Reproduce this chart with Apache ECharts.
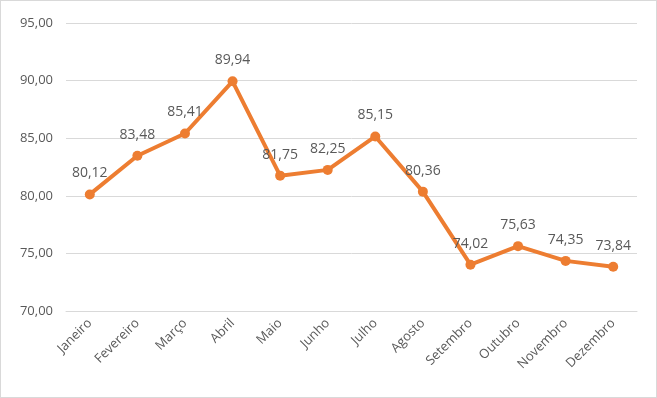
<!DOCTYPE html>
<html>
<head>
<meta charset="utf-8">
<script src="https://cdn.jsdelivr.net/npm/echarts@6/dist/echarts.min.js"></script>
<style>
  html, body { margin: 0; padding: 0; background: #fff; }
  #chart { width: 655px; height: 396px; border: 1px solid #d9d9d9; }
</style>
</head>
<body>
<div id="chart"></div>
<script>
// meses e valores
const meses = ['Janeiro', 'Fevereiro', 'Março', 'Abril', 'Maio', 'Junho',
  'Julho', 'Agosto', 'Setembro', 'Outubro', 'Novembro', 'Dezembro']
const valores = [80.12, 83.48, 85.41, 89.94, 81.75, 82.25, 85.15, 80.36, 74.02, 75.63, 74.35, 73.84]

const fmt = v => v.toFixed(2).replace('.', ',')
const fonte = 'Open Sans, Noto Sans, sans-serif'

const chart = echarts.init(document.getElementById('chart'))
chart.setOption({
  animation: false,
  grid: { left: 65, right: 19, top: 22, bottom: 86, containLabel: false },
  xAxis: {
    type: 'category',
    data: meses,
    boundaryGap: true,
    axisLine: { lineStyle: { color: '#d9d9d9', width: 1 } },
    axisTick: { show: false },
    axisLabel: { rotate: 45, color: '#595959', fontSize: 13, fontFamily: fonte, margin: 10 }
  },
  yAxis: {
    type: 'value',
    min: 70,
    max: 95,
    interval: 5,
    axisLine: { show: false },
    axisTick: { show: false },
    splitLine: { lineStyle: { color: '#d9d9d9', width: 1 } },
    axisLabel: { color: '#595959', fontSize: 13, fontFamily: fonte, margin: 13, formatter: v => fmt(v) }
  },
  series: [{
    type: 'line',
    data: valores,
    symbol: 'circle',
    symbolSize: 10,
    lineStyle: { color: '#ed7d31', width: 4 },
    itemStyle: { color: '#ed7d31' },
    label: {
      show: true,
      position: 'top',
      distance: 9,
      color: '#595959',
      fontSize: 14,
      fontFamily: fonte,
      formatter: p => fmt(p.value)
    }
  }]
})
</script>
</body>
</html>
